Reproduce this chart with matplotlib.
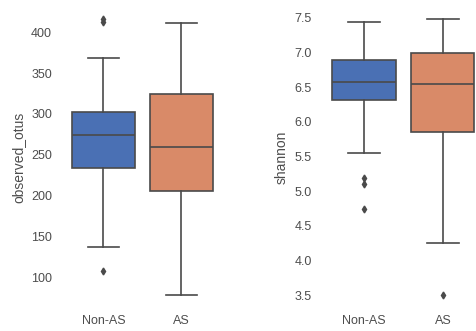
import matplotlib
matplotlib.use("Agg")
import matplotlib.pyplot as plt

plt.rcParams['font.family'] = ['Liberation Sans', 'DejaVu Sans']

groups = ["Non-AS", "AS"]
colors = ["#4a70b4", "#d98a68"]

# observed_otus summary stats per group
otus_whislo = [137, 78]
otus_q1 = [234, 206]
otus_med = [274, 259]
otus_q3 = [302, 325]
otus_whishi = [368, 411]
otus_fliers = [[108, 413, 417], []]

# shannon summary stats per group
sh_whislo = [5.55, 4.25]
sh_q1 = [6.32, 5.86]
sh_med = [6.58, 6.54]
sh_q3 = [6.89, 6.99]
sh_whishi = [7.44, 7.48]
sh_fliers = [[5.19, 5.11, 4.74], [3.5]]

otus_ticks = [100, 150, 200, 250, 300, 350, 400]
sh_ticks = [3.5, 4.0, 4.5, 5.0, 5.5, 6.0, 6.5, 7.0, 7.5]

line_c = "#4a4a4a"
text_c = "#4d4d4d"

def make_stats(lo, q1, med, q3, hi, fl):
    out = []
    for i in range(len(lo)):
        out.append(dict(whislo=lo[i], q1=q1[i], med=med[i], q3=q3[i],
                        whishi=hi[i], fliers=fl[i], label=groups[i]))
    return out

fig = plt.figure(figsize=(4.77, 3.31), dpi=100)
ax1 = fig.add_axes([0.1352, 0.0665, 0.327, 0.917])
ax2 = fig.add_axes([0.6803, 0.0665, 0.331, 0.917])

def draw(ax, stats, ylabel, ticks, fmt):
    bp = ax.bxp(stats, positions=range(len(stats)), widths=0.8,
                patch_artist=True, showfliers=True,
                boxprops=dict(edgecolor=line_c, linewidth=1.2),
                medianprops=dict(color=line_c, linewidth=1.2),
                whiskerprops=dict(color=line_c, linewidth=1.2),
                capprops=dict(color=line_c, linewidth=1.2),
                flierprops=dict(marker='d', markersize=3.5, markerfacecolor=line_c,
                                markeredgecolor=line_c, linestyle='none'))
    for patch, c in zip(bp['boxes'], colors):
        patch.set_facecolor(c)
    ax.set_xlim(-0.5, 1.5)
    ax.set_xticks(range(len(groups)))
    ax.set_xticklabels(groups)
    ax.set_yticks(ticks)
    ax.set_yticklabels([fmt(t) for t in ticks])
    ax.set_ylabel(ylabel, fontsize=10, color=text_c, labelpad=4)
    ax.tick_params(axis='y', length=0, labelsize=9, labelcolor=text_c, pad=9)
    ax.tick_params(axis='x', length=0, labelsize=9, labelcolor=text_c, pad=4)
    for s in ax.spines.values():
        s.set_visible(False)

draw(ax1, make_stats(otus_whislo, otus_q1, otus_med, otus_q3, otus_whishi, otus_fliers),
     "observed_otus", otus_ticks, lambda t: f"{t:d}")
ax1.set_ylim(61, 433)
draw(ax2, make_stats(sh_whislo, sh_q1, sh_med, sh_q3, sh_whishi, sh_fliers),
     "shannon", sh_ticks, lambda t: f"{t:.1f}")
ax2.set_ylim(3.3, 7.68)

fig.savefig("out.png", dpi=100)
